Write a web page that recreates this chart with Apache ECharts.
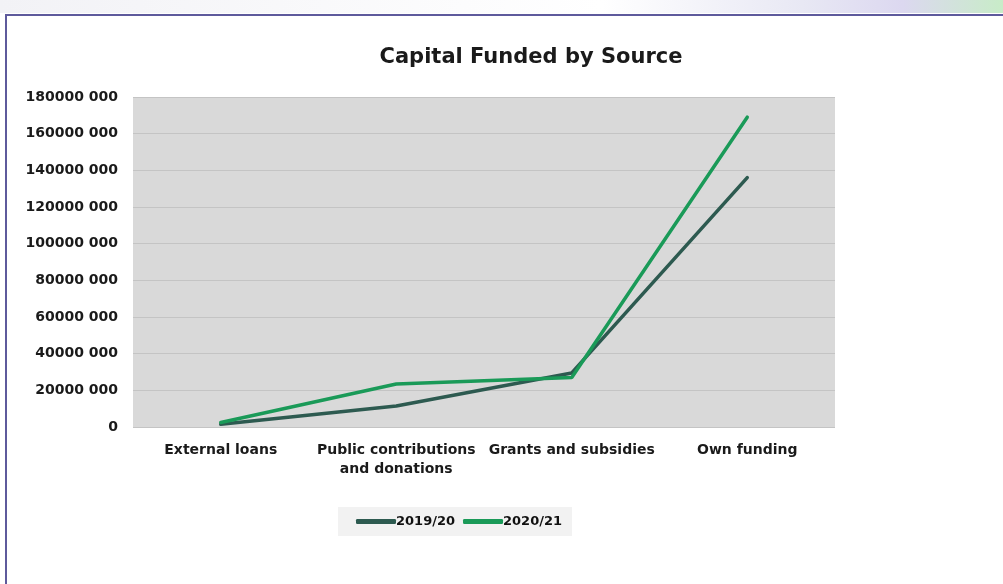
<!DOCTYPE html>
<html>
<head>
<meta charset="utf-8">
<script src="https://cdn.jsdelivr.net/npm/echarts@6/dist/echarts.min.js"></script>
<style>
html,body{margin:0;padding:0;background:#fff;}
#c{width:1003px;height:584px;}
</style>
</head>
<body>
<div id="c"></div>
<script>
var categories = ['External loans', 'Public contributions\nand donations', 'Grants and subsidies', 'Own funding'];
var series2019 = [1500000, 11500000, 29500000, 136000000];
var series2020 = [2500000, 23500000, 27000000, 169000000];
var seriesNames = ['2019/20', '2020/21'];
var yMax = 180000000;
var yStep = 20000000;

function fmt(v) {
  if (v === 0) return '0';
  var th = Math.floor(v / 1000);
  var rest = String(v % 1000);
  while (rest.length < 3) rest = '0' + rest;
  return th + ' ' + rest;
}

var chart = echarts.init(document.getElementById('c'));
chart.setOption({
  animation: false,
  backgroundColor: '#ffffff',
  graphic: [
    {
      type: 'rect', left: 0, top: 0, z: -1,
      shape: { width: 1003, height: 13 },
      style: {
        fill: new echarts.graphic.LinearGradient(0, 0, 1, 0, [
          { offset: 0, color: '#f2f2f6' },
          { offset: 0.6, color: '#ffffff' },
          { offset: 0.8, color: '#e8e8f4' },
          { offset: 0.9, color: '#dcd8f0' },
          { offset: 1, color: '#c8ecc8' }
        ])
      }
    },
    {
      type: 'rect', z: 0,
      shape: { x: 6, y: 15, width: 1010, height: 600 },
      style: { fill: 'none', stroke: '#5e5a9c', lineWidth: 2 }
    }
  ],
  title: {
    text: 'Capital Funded by Source',
    left: 526, top: 42, textAlign: 'center',
    textStyle: { fontFamily: 'DejaVu Sans', fontWeight: 'bold', fontSize: 21, color: '#1a1a1a' }
  },
  grid: {
    left: 133, right: 168, top: 97, bottom: 157,
    show: true, backgroundColor: '#d9d9d9', borderWidth: 0
  },
  legend: {
    data: seriesNames,
    left: 338, top: 507,
    backgroundColor: '#f2f2f2',
    padding: [8, 10, 8, 18],
    itemWidth: 40, itemHeight: 5, itemGap: 8,
    icon: 'roundRect',
    textStyle: { fontFamily: 'DejaVu Sans', fontWeight: 'bold', fontSize: 13, color: '#111', padding: [0, 0, 0, -5] }
  },
  xAxis: {
    type: 'category',
    data: categories,
    boundaryGap: true,
    axisLine: { show: false },
    axisTick: { show: false },
    axisLabel: {
      interval: 0,
      margin: 14, lineHeight: 19,
      fontFamily: 'DejaVu Sans', fontWeight: 'bold', fontSize: 14, color: '#1a1a1a'
    }
  },
  yAxis: {
    type: 'value',
    min: 0, max: yMax, interval: yStep,
    axisLine: { show: false },
    axisTick: { show: false },
    splitLine: { lineStyle: { color: '#c4c4c4', width: 1 } },
    axisLabel: {
      margin: 15,
      formatter: fmt,
      fontFamily: 'DejaVu Sans', fontWeight: 'bold', fontSize: 14, color: '#1a1a1a'
    }
  },
  series: [
    {
      name: seriesNames[0], type: 'line', data: series2019,
      symbol: 'none', color: '#2d5a50',
      lineStyle: { width: 3.5, color: '#2d5a50', cap: 'round' }
    },
    {
      name: seriesNames[1], type: 'line', data: series2020,
      symbol: 'none', color: '#1a9a58',
      lineStyle: { width: 3.5, color: '#1a9a58', cap: 'round' }
    }
  ]
});
</script>
</body>
</html>
